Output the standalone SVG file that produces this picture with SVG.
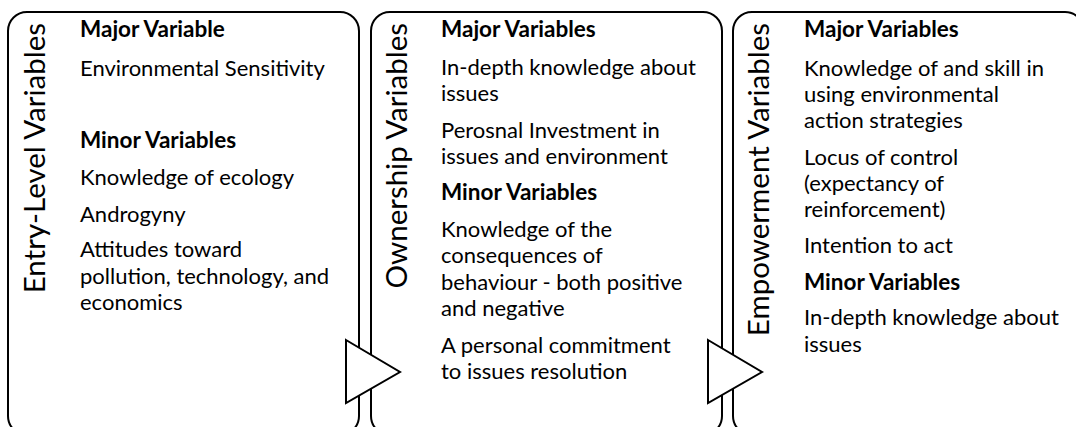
<svg xmlns="http://www.w3.org/2000/svg" width="1076" height="427" viewBox="0 0 1076 427">
<style>
.box{fill:#fff;stroke:#000;stroke-width:2}
.tri{fill:#fff;stroke:#000;stroke-width:2;stroke-linejoin:miter}
.t{font-family:Lato,"Liberation Sans",sans-serif;font-size:22px;fill:#000}
.b{font-weight:bold;font-size:22.5px}
.v{font-family:Lato,"Liberation Sans",sans-serif;font-size:29.5px;fill:#000;text-anchor:end}
</style>
<rect width="1076" height="427" fill="#fff"/>
<g id="entry">
<rect class="box" x="8" y="12" width="351" height="423" rx="19"/>
<text class="v" transform="translate(45,23) rotate(-90)">Entry-Level Variables</text>
<text class="t b" x="80" y="37">Major Variable</text>
<text class="t" x="80" y="76">Environmental Sensitivity</text>
<text class="t b" x="80" y="148">Minor Variables</text>
<text class="t" x="80" y="185">Knowledge of ecology</text>
<text class="t" x="80" y="222">Androgyny</text>
<text class="t" x="80" y="257">Attitudes toward</text>
<text class="t" x="80" y="284">pollution, technology, and</text>
<text class="t" x="80" y="310">economics</text>
</g>
<g id="ownership">
<rect class="box" x="371" y="12" width="351" height="423" rx="19"/>
<text class="v" transform="translate(407,23) rotate(-90)">Ownership Variables</text>
<text class="t b" x="441" y="37">Major Variables</text>
<text class="t" x="441" y="75">In-depth knowledge about</text>
<text class="t" x="441" y="101">issues</text>
<text class="t" x="441" y="138">Perosnal Investment in</text>
<text class="t" x="441" y="164">issues and environment</text>
<text class="t b" x="441" y="200">Minor Variables</text>
<text class="t" x="441" y="237">Knowledge of the</text>
<text class="t" x="441" y="263">consequences of</text>
<text class="t" x="441" y="290">behaviour - both positive</text>
<text class="t" x="441" y="316">and negative</text>
<text class="t" x="441" y="353">A personal commitment</text>
<text class="t" x="441" y="379">to issues resolution</text>
</g>
<g id="empowerment">
<rect class="box" x="733" y="12" width="351" height="423" rx="19"/>
<text class="v" transform="translate(769,23) rotate(-90)">Empowerment Variables</text>
<text class="t b" x="804" y="37">Major Variables</text>
<text class="t" x="804" y="76">Knowledge of and skill in</text>
<text class="t" x="804" y="102">using environmental</text>
<text class="t" x="804" y="128">action strategies</text>
<text class="t" x="804" y="165">Locus of control</text>
<text class="t" x="804" y="191">(expectancy of</text>
<text class="t" x="804" y="217">reinforcement)</text>
<text class="t" x="804" y="253">Intention to act</text>
<text class="t b" x="804" y="290">Minor Variables</text>
<text class="t" x="804" y="325">In-depth knowledge about</text>
<text class="t" x="804" y="352">issues</text>
</g>
<g id="connectors">
<polygon class="tri" points="346,340 400,372 346,403"/>
<polygon class="tri" points="708,340 762,372 708,403"/>
</g>
</svg>
